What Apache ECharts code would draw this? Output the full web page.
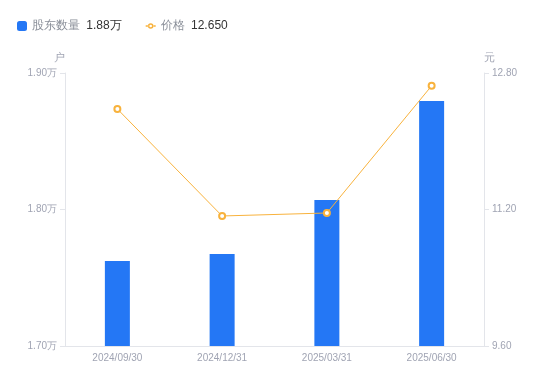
<!DOCTYPE html>
<html><head><meta charset="utf-8">
<script src="https://cdn.jsdelivr.net/npm/echarts@6/dist/echarts.min.js"></script>
<style>html,body{margin:0;padding:0;background:#fff}#c{width:550px;height:381px}</style>
</head><body><div id="c"></div>
<script>
var categories = ['2024/09/30','2024/12/31','2025/03/31','2025/06/30'];
var holders = [17623, 17674, 18070, 18795];
var prices = [12.378, 11.124, 11.159, 12.650];
var leftTicks = [17000, 18000, 19000];
var rightTicks = [9.6, 11.2, 12.8];

var chart = echarts.init(document.getElementById('c'));
var lastH = (holders[holders.length-1]/10000).toFixed(2) + '万';
var lastP = prices[prices.length-1].toFixed(3);
var lineIcon = 'path://M0,2.3H2.5V3.7H0Z M7.5,2.3H10V3.7H7.5Z ' +
  'M7.8,3A2.8,2.8 0 1,0 2.2,3A2.8,2.8 0 1,0 7.8,3Z ' +
  'M6.3,3A1.3,1.3 0 1,1 3.7,3A1.3,1.3 0 1,1 6.3,3Z';
chart.setOption({
  animation: false,
  legend: {
    left: 12, top: 15, itemGap: 24, itemWidth: 10, itemHeight: 10,
    data: [{name: '股东数量', icon: 'roundRect'}, {name: '价格', icon: lineIcon}],
    formatter: function(n){
      return n === '股东数量' ? '{a|' + n + '} {b|' + lastH + '}' : '{a|' + n + '} {b|' + lastP + '}';
    },
    textStyle: {rich: {a: {fontSize: 12, color: '#8a8f99', padding: [0, 3, 0, 0]}, b: {fontSize: 12, color: '#333'}}}
  },
  grid: {left: 65, right: 66, top: 73, bottom: 35},
  xAxis: {
    type: 'category', data: categories,
    axisLine: {lineStyle: {color: '#e3e5ea'}},
    axisTick: {show: false},
    axisLabel: {color: '#a0a4b3', fontSize: 10, margin: 7}
  },
  yAxis: [{
    type: 'value', name: '户', min: leftTicks[0], max: leftTicks[2], interval: 1000,
    nameTextStyle: {color: '#a0a4b3', fontSize: 11, align: 'right'},
    nameGap: 10,
    axisLine: {show: true, lineStyle: {color: '#e3e5ea'}},
    axisTick: {show: true, length: 5, lineStyle: {color: '#e3e5ea'}},
    splitLine: {show: false},
    axisLabel: {color: '#a0a4b3', fontSize: 10, margin: 8, formatter: function(v){return (v/10000).toFixed(2)+'万';}}
  }, {
    type: 'value', name: '元', min: rightTicks[0], max: rightTicks[2], interval: 1.6,
    nameTextStyle: {color: '#a0a4b3', fontSize: 11, align: 'left'},
    nameGap: 10,
    axisLine: {show: true, lineStyle: {color: '#e3e5ea'}},
    axisTick: {show: true, length: 5, lineStyle: {color: '#e3e5ea'}},
    splitLine: {show: false},
    axisLabel: {color: '#a0a4b3', fontSize: 10, margin: 8, formatter: function(v){return v.toFixed(2);}}
  }],
  series: [{
    name: '股东数量', type: 'bar', data: holders, barWidth: 25,
    itemStyle: {color: '#2477f5'}
  }, {
    name: '价格', type: 'line', yAxisIndex: 1, data: prices,
    symbol: 'emptyCircle', symbolSize: 6,
    lineStyle: {color: '#f8b23c', width: 1},
    itemStyle: {color: '#f8b23c', borderWidth: 1.5}
  }]
});
</script></body></html>
